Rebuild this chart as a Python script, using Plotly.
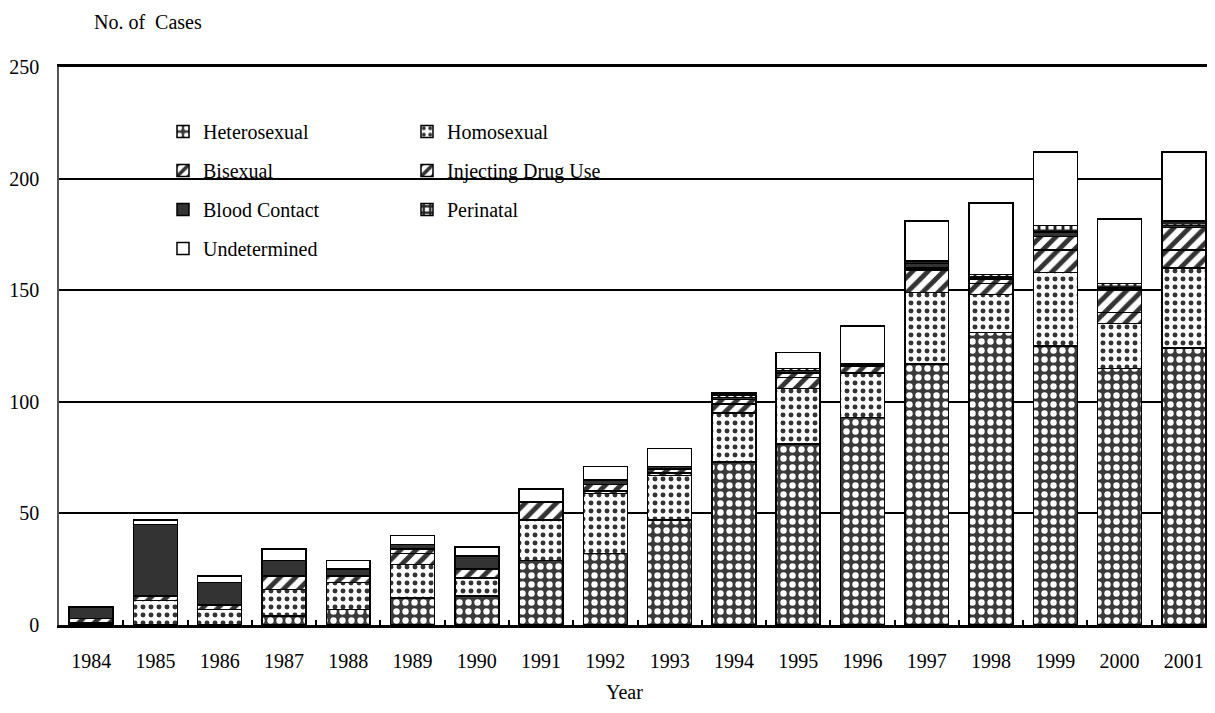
import plotly.graph_objects as go

years = [str(y) for y in range(1984, 2002)]
heterosexual = [0, 0, 0, 4, 7, 12, 13, 29, 32, 47, 73, 81, 93, 117, 131, 125, 115, 124]
homosexual = [1, 11, 7, 12, 12, 15, 8, 18, 27, 20, 22, 25, 20, 32, 17, 33, 20, 36]
bisexual = [2, 2, 2, 6, 3, 5, 4, 8, 1, 1, 4, 5, 3, 10, 5, 10, 5, 8]
injecting = [0, 0, 0, 0, 0, 2, 0, 0, 3, 2, 2, 2, 0, 1, 2, 6, 10, 10]
blood = [5, 32, 10, 7, 3, 2, 6, 0, 2, 1, 1, 1, 1, 2, 1, 2, 1, 1]
perinatal = [0, 0, 0, 0, 0, 0, 0, 0, 0, 0, 1, 1, 0, 1, 1, 3, 2, 2]
undetermined = [0, 2, 3, 5, 4, 4, 4, 6, 6, 8, 1, 7, 17, 18, 32, 33, 29, 31]

FONT = "Liberation Serif"
outline = dict(color="black", width=1.5)

OFF = 8  # page offset of the figure (body margin)
W, H = 1215, 713
L, R, T = 51, 7, 59
B = H - (625 - OFF)
PW, PH = W - L - R, H - T - B


def px(x):
    return (x - OFF - L) / PW


def py(y):
    return (H - B - (y - OFF)) / PH


series = [
    ("Heterosexual", heterosexual, dict(shape=".", fgcolor="white", bgcolor="#3a3a3a", size=9, solidity=0.4), "legend"),
    ("Homosexual", homosexual, dict(shape=".", fgcolor="#333333", bgcolor="white", size=8, solidity=0.3), "legend2"),
    ("Bisexual", bisexual, dict(shape="/", fgcolor="#333333", bgcolor="white", size=11, solidity=0.45), "legend"),
    ("Injecting Drug Use", injecting, dict(shape="/", fgcolor="#333333", bgcolor="white", size=11, solidity=0.45), "legend2"),
    ("Blood Contact", blood, None, "legend"),
    ("Perinatal", perinatal, dict(shape="+", fgcolor="#222222", bgcolor="white", size=8, solidity=0.6), "legend2"),
    ("Undetermined", undetermined, None, "legend"),
]

fig = go.Figure()
for name, vals, pat, lg in series:
    marker = dict(line=outline)
    if pat is None:
        marker["color"] = "#333333" if name == "Blood Contact" else "white"
    else:
        marker["color"] = pat["bgcolor"]
        marker["pattern"] = dict(shape=pat["shape"], fgcolor=pat["fgcolor"], bgcolor=pat["bgcolor"],
                                 size=pat["size"], solidity=pat["solidity"], fillmode="replace")
    fig.add_trace(go.Bar(x=years, y=vals, name=name, marker=marker, legend=lg,
                         legendgroup=name, hoverinfo="x+y+name"))

legend_common = dict(
    bgcolor="rgba(0,0,0,0)", borderwidth=0, font=dict(family=FONT, size=20, color="black"),
    traceorder="grouped", tracegroupgap=10, orientation="v", yanchor="top", xanchor="left",
)
fig.update_layout(
    width=W, height=H,
    barmode="stack", bargap=0.316,
    plot_bgcolor="white", paper_bgcolor="white",
    margin=dict(l=L, r=R, t=T, b=B, autoexpand=False),
    font=dict(family=FONT, size=20, color="black"),
    legend=dict(x=px(163), y=py(112), **legend_common),
    legend2=dict(x=px(407), y=py(112), **legend_common),
    xaxis=dict(
        showline=True, linecolor="black", linewidth=3, mirror=True,
        ticks="inside", ticklen=5, tickwidth=1.5, tickcolor="black", tickson="boundaries",
        showgrid=False, ticklabelstandoff=16, automargin=False,
        tickfont=dict(family=FONT, size=20),
    ),
    yaxis=dict(
        range=[0, 250], tickvals=[0, 50, 100, 150, 200, 250],
        showline=True, linecolor="#555555", linewidth=1.5,
        showgrid=True, gridcolor="black", gridwidth=1.5,
        ticks="", ticklabelstandoff=14, zeroline=False, automargin=False,
        tickfont=dict(family=FONT, size=20),
    ),
    shapes=[dict(type="rect", xref="paper", yref="paper",
                 x0=px(145), x1=px(630), y0=py(268), y1=py(112),
                 fillcolor="white", line=dict(width=0), layer="between")],
    annotations=[
        dict(text="No. of  Cases", xref="paper", yref="paper",
             x=px(92), y=py(22), xanchor="left", yanchor="middle",
             showarrow=False, font=dict(family=FONT, size=20)),
        dict(text="Year", xref="paper", yref="paper",
             x=px(624), y=py(692), xanchor="center", yanchor="middle",
             showarrow=False, font=dict(family=FONT, size=20)),
    ],
)

fig.write_html("out.html")
